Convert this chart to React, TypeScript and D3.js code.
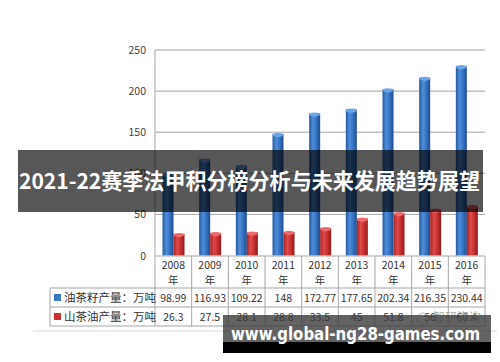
import React from "react";
import * as d3 from "d3";

const years = ["2008", "2009", "2010", "2011", "2012", "2013", "2014", "2015", "2016"];
const seedOutput = [98.99, 116.93, 109.22, 148, 172.77, 177.65, 202.34, 216.35, 230.44];
const oilOutput = [26.3, 27.5, 28.1, 28.8, 33.5, 45, 51.8, 56, 60.4];
const seriesNames = ["油茶籽产量：万吨", "山茶油产量：万吨"];
const yTicks = [0, 50, 100, 150, 200, 250];
const title = "2021-22赛季法甲积分榜分析与未来发展趋势展望";
const site = "www.global-ng28-games.com";
const watermark = "智研咨询";

const W = 500, H = 362;
const left = 155, right = 485, top = 50, bottom = 255.5;

export default function App() {
  const x = d3.scaleBand<string>().domain(years).range([left, right]).padding(0);
  const inner = d3.scaleBand<string>().domain(["a", "b"]).range([7.5, 29.5]).padding(0);
  const y = d3.scaleLinear().domain([0, 250]).range([bottom, top]);
  const bw = inner.bandwidth();
  const series = [
    { key: "a", values: seedOutput, grad: "gBlue", cap: "#6aa6ea", edge: "#1f4f94" },
    { key: "b", values: oilOutput, grad: "gRed", cap: "#ee6a6a", edge: "#8e1d1d" },
  ];
  const rowY = [256, 288, 307, 326];
  const font = "'Noto Sans CJK SC', 'Noto Sans', sans-serif";

  return (
    <svg width={W} height={H} style={{ position: "absolute", left: 0, top: 0, background: "#fff" }} fontFamily={font}>
      <defs>
        <linearGradient id="gBlue" x1="0" x2="1" y1="0" y2="0">
          <stop offset="0" stopColor="#24599f" />
          <stop offset="0.35" stopColor="#4f8ed8" />
          <stop offset="0.6" stopColor="#3a78c8" />
          <stop offset="1" stopColor="#1d4d8f" />
        </linearGradient>
        <linearGradient id="gRed" x1="0" x2="1" y1="0" y2="0">
          <stop offset="0" stopColor="#a82222" />
          <stop offset="0.35" stopColor="#e04a4a" />
          <stop offset="0.6" stopColor="#cc3434" />
          <stop offset="1" stopColor="#921a1a" />
        </linearGradient>
      </defs>
      <rect width={W} height={H} fill="#fff" />
      {/* gridlines */}
      {yTicks.map((t) => (
        <g key={t}>
          {t > 0 && <line x1={left} x2={right} y1={y(t)} y2={y(t)} stroke="#a6a6a6" strokeWidth={1} />}
          <text x={146} y={y(t) + 4} textAnchor="end" fontSize={10.5} fill="#444">{t}</text>
        </g>
      ))}
      {/* bars */}
      {series.map((s) =>
        years.map((yr, i) => {
          const bx = (x(yr) as number) + (inner(s.key) as number);
          const by = y(s.values[i]);
          return (
            <g key={s.key + yr}>
              <rect x={bx} y={by} width={bw} height={bottom - by} fill={`url(#${s.grad})`} />
              <ellipse cx={bx + bw / 2} cy={by + 1} rx={bw / 2} ry={2} fill={s.cap} />
              <path d={`M${bx + 2},${by + 1} L${bx + bw - 2},${by + 1} L${bx + bw / 2},${by + 4} Z`} fill={s.cap} opacity={0.8} />
            </g>
          );
        })
      )}
      {/* axis & table */}
      <line x1={left} x2={left} y1={top} y2={326} stroke="#a6a6a6" />
      <line x1={left} x2={right} y1={256} y2={256} stroke="#a6a6a6" />
      {rowY.slice(1).map((ry) => (
        <line key={ry} x1={50} x2={right} y1={ry} y2={ry} stroke="#a6a6a6" />
      ))}
      <line x1={50} x2={50} y1={288} y2={326} stroke="#a6a6a6" />
      {years.map((yr) => (
        <line key={"v" + yr} x1={(x(yr) as number) + x.bandwidth()} x2={(x(yr) as number) + x.bandwidth()} y1={256} y2={326} stroke="#a6a6a6" />
      ))}
      {years.map((yr, i) => {
        const cx = (x(yr) as number) + x.bandwidth() / 2;
        return (
          <g key={"t" + yr} fontSize={10.5} fill="#333" textAnchor="middle">
            <text x={cx} y={269}>{yr}</text>
            <text x={cx} y={284}>年</text>
            <text x={cx} y={302}>{seedOutput[i]}</text>
            <text x={cx} y={321}>{oilOutput[i]}</text>
          </g>
        );
      })}
      {seriesNames.map((n, i) => (
        <g key={n}>
          <rect x={54} y={rowY[i + 1] + 6} width={7} height={7} fill={i === 0 ? "#3a78c8" : "#cc3434"} />
          <text x={64} y={rowY[i + 1] + 14} fontSize={11.5} fill="#333">{n}</text>
        </g>
      ))}
      <line x1={33} x2={497} y1={331} y2={331} stroke="#d8d8d8" />
      {/* watermark */}
      <circle cx={423} cy={319} r={6} fill="none" stroke="#bbb" />
      <text x={433} y={322} fontSize={12} fill="#aaa">{watermark}</text>
      {/* title banner */}
      <rect x={18} y={150} width={465} height={62} fill="#000" opacity={0.66} />
      <text x={19} y={189} fontSize={21.5} fontWeight="bold" fill="#fff" textLength={461} lengthAdjust="spacingAndGlyphs">{title}</text>
      {/* site banner */}
      <rect x={223} y={315} width={268} height={27} fill="#3c3c3c" opacity={0.8} />
      <rect x={223} y={342} width={268} height={11} fill="#000" />
      <text x={231} y={340} fontSize={18} fontWeight="bold" fill="#fff" fontFamily="'DejaVu Sans', sans-serif" textLength={249} lengthAdjust="spacingAndGlyphs">{site}</text>
    </svg>
  );
}
